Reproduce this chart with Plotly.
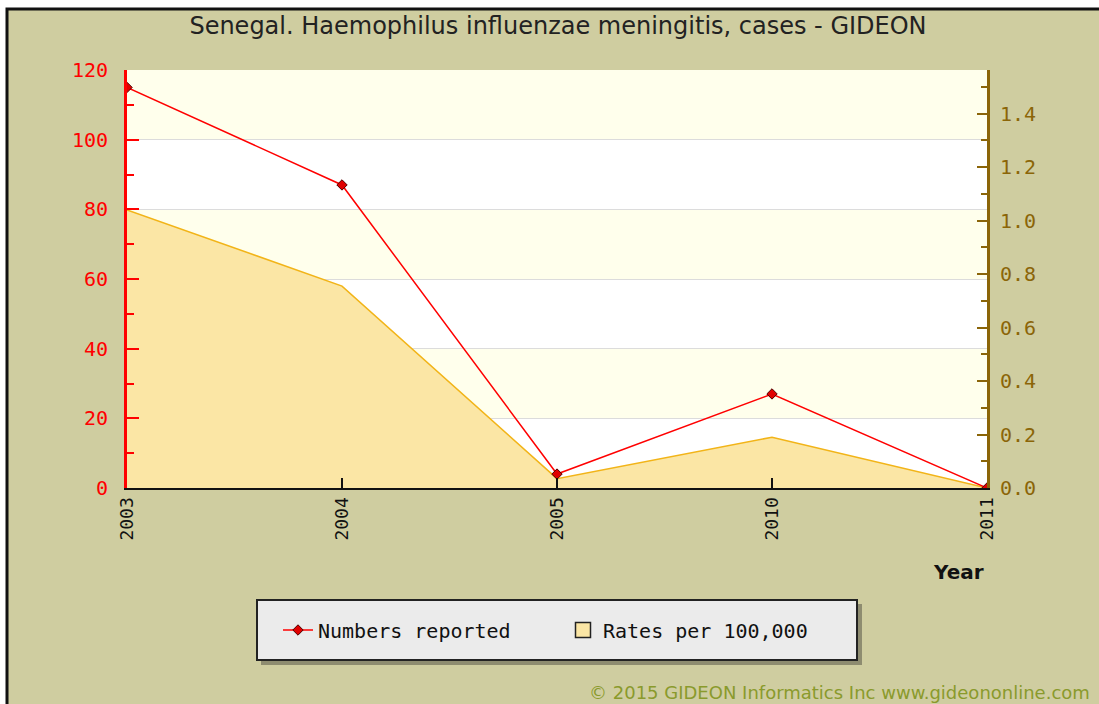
import plotly.graph_objects as go

years = ["2003", "2004", "2005", "2010", "2011"]
numbers_reported = [115, 87, 4, 27, 0]
rates_per_100k = [1.04, 0.755, 0.035, 0.19, 0.0]

title_text = "Senegal. Haemophilus influenzae meningitis, cases - GIDEON"
num_name = "Numbers reported"
rate_name = "Rates per 100,000"
footer = "\u00a9 2015 GIDEON Informatics Inc www.gideononline.com"

W, H = 1099, 704
L, R, T, B = 127, 987, 70, 488
PW, PH = R - L, B - T

def px(x):
    return (x - L) / PW

def py(y):
    return (B - y) / PH

BG = "#CFCDA0"
BROWN = "#8B6508"
MONO = "DejaVu Sans Mono"

fig = go.Figure()

fig.add_trace(go.Scatter(
    x=years, y=rates_per_100k, yaxis="y", mode="lines",
    line=dict(color="#F2B418", width=1.5), fill="tozeroy",
    fillcolor="#FBE6A5", showlegend=False, hoverinfo="x+y", name=rate_name))
fig.add_trace(go.Scatter(
    x=years, y=numbers_reported, yaxis="y2", mode="lines+markers",
    line=dict(color="#FF0000", width=1.5),
    marker=dict(symbol="diamond", size=8, color="#E00000",
                line=dict(color="#500000", width=1)),
    name=num_name, legendrank=1))
fig.add_trace(go.Scatter(
    x=[years[0]], y=[None], yaxis="y", mode="markers",
    marker=dict(symbol="square", size=15, color="#FBE6A5",
                line=dict(color="#222222", width=1.5)),
    name=rate_name, legendrank=2))

shapes = []
shapes.append(dict(type="rect", xref="paper", yref="paper", layer="below",
                   x0=px(7), x1=px(1115), y0=py(9), y1=py(720),
                   fillcolor=BG, line=dict(color="#111111", width=3)))
shapes.append(dict(type="rect", xref="paper", yref="paper", layer="below",
                   x0=0, x1=1, y0=0, y1=1, fillcolor="#FFFFFF",
                   line=dict(width=0)))
for lo in (20, 60, 100):
    shapes.append(dict(type="rect", xref="paper", yref="y2", layer="below",
                       x0=0, x1=1, y0=lo, y1=lo + 20,
                       fillcolor="#FFFFEC", line=dict(width=0)))
shapes.append(dict(type="rect", xref="paper", yref="paper", layer="below",
                   x0=px(261), x1=px(862), y0=py(604), y1=py(665),
                   fillcolor="#8E8C70", line=dict(width=0)))
shapes.append(dict(type="rect", xref="paper", yref="paper", layer="below",
                   x0=px(257), x1=px(857), y0=py(600), y1=py(660),
                   fillcolor="#EBEBEB", line=dict(color="#222222", width=2)))

annotations = [
    dict(text="Year", x=px(986), y=py(572), xref="paper", yref="paper",
         xanchor="right", yanchor="middle", showarrow=False,
         font=dict(family="DejaVu Sans", size=20, color="#111111", weight="bold")),
    dict(text=footer, x=px(587), y=py(692), xref="paper", yref="paper",
         xanchor="left", yanchor="middle", showarrow=False,
         font=dict(family="DejaVu Sans", size=18, color="#8A9A2C")),
]

fig.update_layout(
    width=W, height=H,
    margin=dict(l=L, r=W - R, t=T, b=H - B, pad=0),
    paper_bgcolor="#FFFFFF", plot_bgcolor="rgba(0,0,0,0)",
    title=dict(text=title_text, x=px(558), xref="paper", xanchor="center",
               y=1 - 26 / H, yanchor="middle",
               font=dict(family="DejaVu Sans", size=24, color="#222222")),
    shapes=shapes, annotations=annotations,
    xaxis=dict(type="category", range=[0, len(years) - 1], tickangle=-90,
               ticks="inside", ticklen=10, tickwidth=2, tickcolor="#111111",
               showline=True, linecolor="#111111", linewidth=2, showgrid=False,
               tickfont=dict(family=MONO, size=18, color="#111111")),
    yaxis=dict(side="right", range=[0, 1.563], dtick=0.2, tick0=0, tickformat=".1f",
               ticks="inside", ticklen=10, tickwidth=2, tickcolor=BROWN,
               showline=True, linecolor=BROWN, linewidth=3, showgrid=False,
               zeroline=False, ticklabelstandoff=6,
               minor=dict(dtick=0.1, ticks="inside", ticklen=6, tickwidth=2,
                          tickcolor=BROWN, showgrid=False),
               tickfont=dict(family=MONO, size=20, color=BROWN)),
    yaxis2=dict(side="left", overlaying="y", range=[0, 120], dtick=20, tick0=0,
                ticks="inside", ticklen=12, tickwidth=2, tickcolor="#FF0000",
                showline=True, linecolor="#FF0000", linewidth=3,
                showgrid=True, gridcolor="#DCDCDC", gridwidth=1, zeroline=False,
                ticklabelstandoff=12,
                minor=dict(dtick=10, ticks="inside", ticklen=7, tickwidth=2,
                           tickcolor="#FF0000", showgrid=False),
                tickfont=dict(family=MONO, size=20, color="#FF0000")),
    legend=dict(orientation="h", x=px(278), xanchor="left", y=py(630),
                yanchor="middle", bgcolor="rgba(0,0,0,0)", borderwidth=0,
                font=dict(family=MONO, size=20, color="#111111"),
                entrywidth=240, entrywidthmode="pixels", itemsizing="trace"),
    showlegend=True,
)

fig.write_html("out.html", config={"displayModeBar": False},
               post_script="document.body.style.margin='0';document.body.style.padding='0';")
